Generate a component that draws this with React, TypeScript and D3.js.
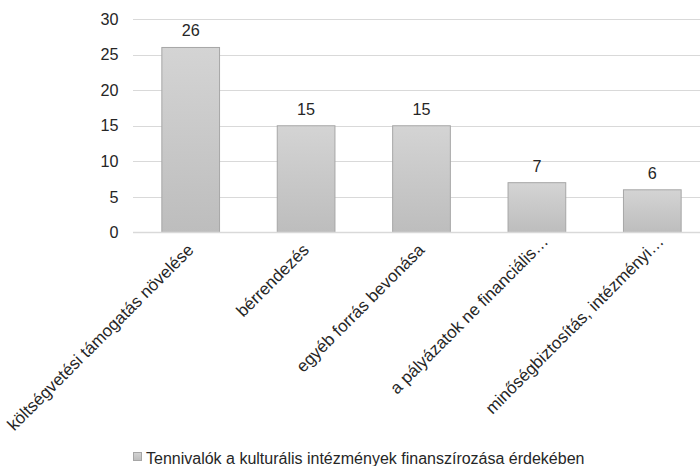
import * as d3 from "d3";

const categories = [
    "költségvetési támogatás növelése",
    "bérrendezés",
    "egyéb forrás bevonása",
    "a pályázatok ne financiális…",
    "minőségbiztosítás, intézményi…",
];
const values = [26, 15, 15, 7, 6];
const yTicks = [0, 5, 10, 15, 20, 25, 30];
const seriesName = "Tennivalók a kulturális intézmények finanszírozása érdekében";

const width = 700;
const height = 466;
const marginLeft = 133;
const plotRight = 710;
const marginTop = 19;
const axisY = 232.5;
const font = "'Liberation Sans', Arial, sans-serif";
const textColor = "#262626";

const App = () => {
    const x = d3.scaleBand<string>()
        .domain(categories)
        .range([marginLeft, plotRight])
        .paddingInner(0.5)
        .paddingOuter(0.25);
    const y = d3.scaleLinear().domain([0, 30]).range([axisY, marginTop]);

    return (
        <svg width={width} height={height} style={{ position: "absolute", left: 0, top: 0, background: "#fff" }}>
            <defs>
                <linearGradient id="barFill" x1="0" y1="0" x2="0" y2="1">
                    <stop offset="0%" stopColor="#d4d4d4" />
                    <stop offset="100%" stopColor="#bdbdbd" />
                </linearGradient>
            </defs>
            {/* grid */}
            <g>
                { yTicks.filter(t => t !== 0).map(t => (
                    <line key={t} x1={marginLeft} x2={plotRight} y1={Math.round(y(t)) + 0.5} y2={Math.round(y(t)) + 0.5} stroke="#d9d9d9" strokeWidth={1} />
                )) }
            </g>
            {/* y labels */}
            <g fontFamily={font} fontSize={16.2} fill={textColor}>
                { yTicks.map(t => (
                    <text key={t} x={118.5} y={y(t)} dy="0.35em" textAnchor="end">{t}</text>
                )) }
            </g>
            {/* bars */}
            <g>
                { values.map((v, i) => (
                    <rect
                        key={i}
                        x={x(categories[i])}
                        y={y(v)}
                        width={x.bandwidth()}
                        height={y(0) - y(v)}
                        fill="url(#barFill)"
                        stroke="#a6a6a6"
                        strokeWidth={1}
                    />
                )) }
            </g>
            <line x1={marginLeft} x2={plotRight} y1={axisY} y2={axisY} stroke="#d9d9d9" strokeWidth={1.5} />
            {/* value labels */}
            <g fontFamily={font} fontSize={16.2} fill={textColor} textAnchor="middle">
                { values.map((v, i) => (
                    <text key={i} x={(x(categories[i]) ?? 0) + x.bandwidth() / 2} y={y(v) - 11}>{v}</text>
                )) }
            </g>
            {/* category labels (truncated ones sit a bit further out, as in Excel) */}
            <g fontFamily={font} fontSize={17} fill={textColor}>
                { categories.map(c => {
                    const cx = (x(c) ?? 0) + x.bandwidth() / 2 + 4;
                    const cy = axisY + 18.5;
                    return (
                        <text key={c} x={cx} y={cy} dx={c.endsWith("…") ? 12 : 0} textAnchor="end" transform={`rotate(-45, ${cx}, ${cy})`}>{c}</text>
                    );
                }) }
            </g>
            {/* legend */}
            <g fontFamily={font} fontSize={16} fill={textColor}>
                <rect x={133.5} y={452.5} width={8} height={8} fill="url(#barFill)" stroke="#a6a6a6" />
                <text x={146} y={463.5}>{seriesName}</text>
            </g>
        </svg>
    );
};

export default App;
